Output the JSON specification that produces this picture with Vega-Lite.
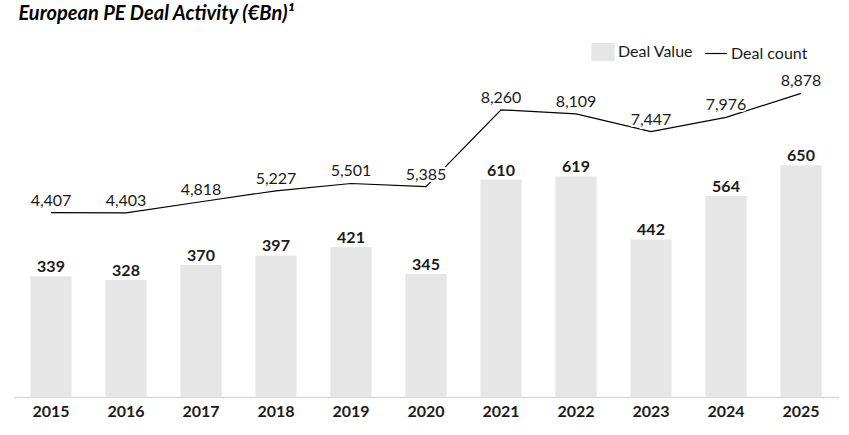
{
  "$schema": "https://vega.github.io/schema/vega-lite/v6.json",
  "width": 825,
  "height": 337,
  "autosize": {"type": "none"},
  "padding": {"left": 13.5, "top": 60, "right": 10.5, "bottom": 38},
  "background": "white",
  "config": {
    "view": {"stroke": null},
    "font": "Lato",
    "text": {"font": "Lato"}
  },
  "title": {
    "text": "European PE Deal Activity (€Bn)¹",
    "anchor": "start",
    "frame": "group",
    "font": "Lato",
    "fontSize": 20,
    "fontWeight": "bold",
    "fontStyle": "italic",
    "color": "#000000",
    "baseline": "alphabetic",
    "offset": 0,
    "dx": 5
  },
  "data": {
    "values": [
      {"year": "2015", "value": 339, "count": 4407},
      {"year": "2016", "value": 328, "count": 4403},
      {"year": "2017", "value": 370, "count": 4818},
      {"year": "2018", "value": 397, "count": 5227},
      {"year": "2019", "value": 421, "count": 5501},
      {"year": "2020", "value": 345, "count": 5385},
      {"year": "2021", "value": 610, "count": 8260},
      {"year": "2022", "value": 619, "count": 8109},
      {"year": "2023", "value": 442, "count": 7447},
      {"year": "2024", "value": 564, "count": 7976},
      {"year": "2025", "value": 650, "count": 8878}
    ]
  },
  "encoding": {
    "x": {
      "field": "year",
      "type": "ordinal",
      "scale": {"paddingInner": 0.45, "paddingOuter": 0.225},
      "axis": {
        "title": null,
        "labelAngle": 0,
        "labelFont": "Lato",
        "labelFontSize": 16,
        "labelFontWeight": "bold",
        "labelColor": "#1a1a1a",
        "labelPadding": 6,
        "ticks": false,
        "domainColor": "#d9d9d9",
        "domainWidth": 1.5,
        "grid": false
      }
    }
  },
  "layer": [
    {
      "encoding": {
        "y": {
          "field": "value",
          "type": "quantitative",
          "scale": {"domain": [0, 945.3], "nice": false},
          "axis": null
        }
      },
      "layer": [
        {
          "mark": {"type": "bar"},
          "encoding": {
            "color": {
              "datum": "Deal Value",
              "scale": {"domain": ["Deal Value", "Deal count"], "range": ["#e6e6e6", "#000000"]},
              "legend": {
                "title": null,
                "orient": "none",
                "legendX": 577.5,
                "legendY": -20,
                "direction": "horizontal",
                "padding": 0,
                "symbolSize": 484,
                "labelFont": "Lato",
                "labelFontSize": 16,
                "labelColor": "#1a1a1a",
                "labelOffset": 3,
                "columnPadding": 8,
                "encode": {
                  "symbols": {
                    "update": {
                      "shape": {"signal": "datum.value === 'Deal count' ? 'stroke' : 'M-1,-0.77L1,-0.77L1,0.77L-1,0.77Z'"},
                      "fill": {"signal": "datum.value === 'Deal count' ? 'transparent' : '#e6e6e6'"},
                      "stroke": {"signal": "datum.value === 'Deal count' ? '#000000' : 'transparent'"},
                      "strokeWidth": {"value": 1.2},
                      "opacity": {"value": 1}
                    }
                  }
                }
              }
            }
          }
        },
        {
          "mark": {"type": "text", "baseline": "alphabetic", "dy": -4, "fontSize": 16, "fontWeight": "bold", "color": "#1a1a1a", "font": "Lato"},
          "encoding": {"text": {"field": "value", "type": "quantitative"}}
        }
      ]
    },
    {
      "encoding": {
        "y": {
          "field": "count",
          "type": "quantitative",
          "scale": {"domain": [-2496, 10126], "nice": false, "zero": false},
          "axis": null
        }
      },
      "layer": [
        {
          "mark": {"type": "line", "strokeWidth": 1.2},
          "encoding": {"color": {"datum": "Deal count"}}
        },
        {
          "mark": {"type": "text", "baseline": "alphabetic", "dy": -7, "fontSize": 16, "font": "Lato", "fill": "white", "stroke": "white", "strokeWidth": 4, "strokeJoin": "round"},
          "encoding": {"text": {"field": "count", "type": "quantitative", "format": ","}}
        },
        {
          "mark": {"type": "text", "baseline": "alphabetic", "dy": -7, "fontSize": 16, "color": "#1a1a1a", "font": "Lato"},
          "encoding": {"text": {"field": "count", "type": "quantitative", "format": ","}}
        }
      ]
    }
  ],
  "resolve": {"scale": {"y": "independent"}}
}
